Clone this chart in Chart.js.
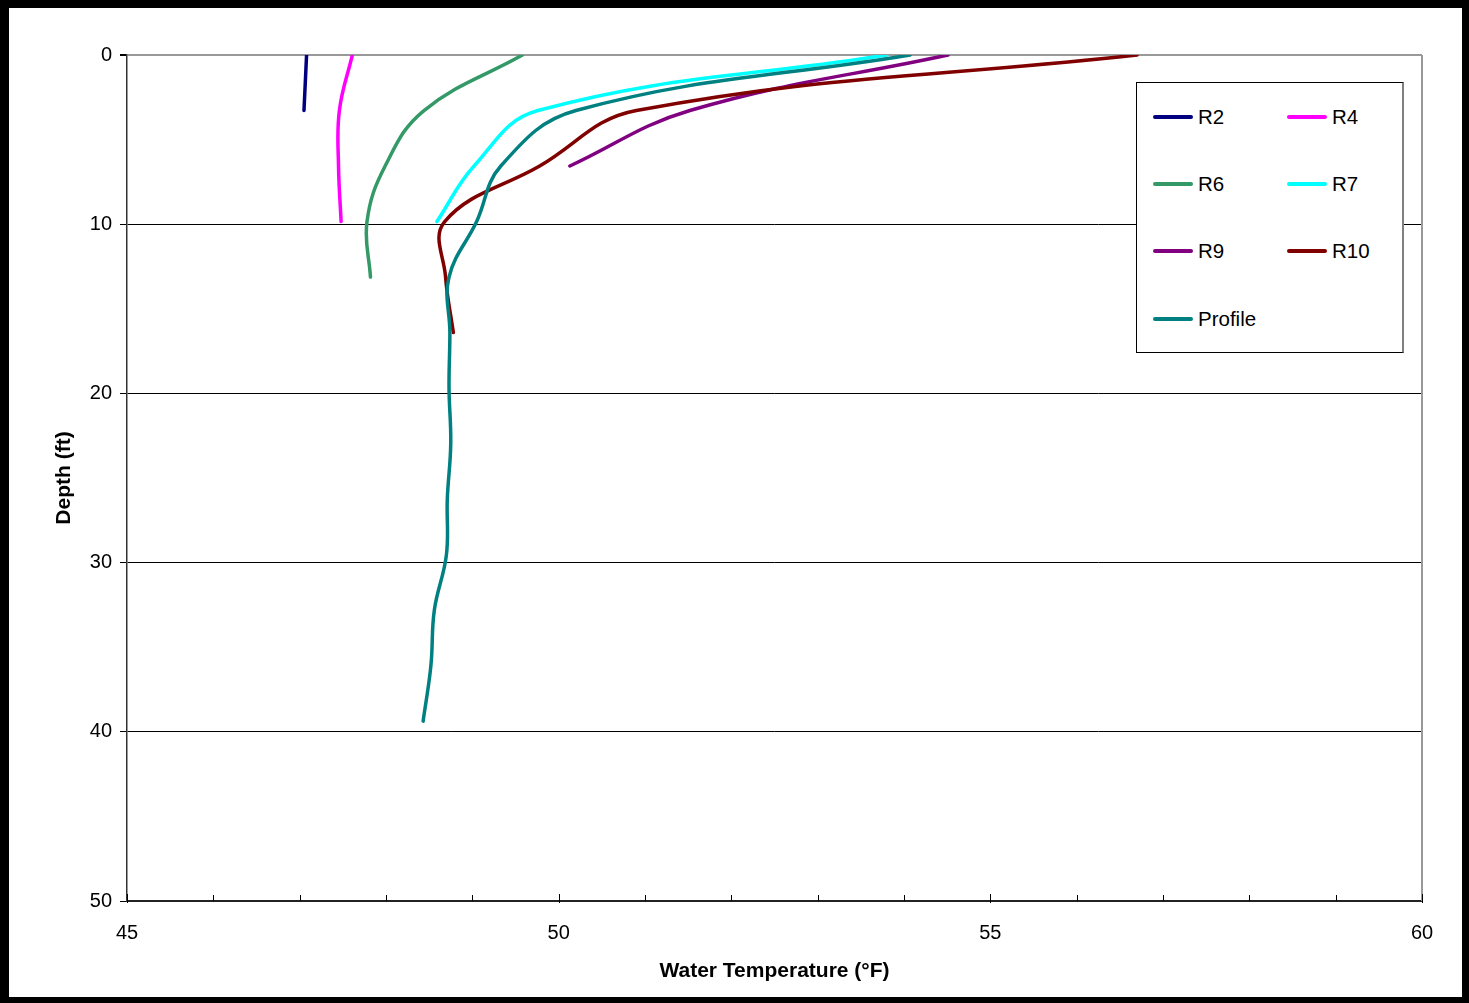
<!DOCTYPE html>
<html>
<head>
<meta charset="utf-8">
<script src="https://cdn.jsdelivr.net/npm/chart.js@4/dist/chart.umd.min.js"></script>
<style>
  html, body { margin: 0; padding: 0; background: #fff; }
  #frame {
    position: absolute; left: 0; top: 0;
    width: 1469px; height: 1003px; box-sizing: border-box;
    border-style: solid; border-color: #000;
    border-width: 8px 7px 6px 9px;
    background: #fff;
  }
  #c { position: absolute; left: 0; top: 0; }
  #legend {
    position: absolute; left: 1127px; top: 74px; width: 268px; height: 271px;
    box-sizing: border-box; border: 1px solid #000; border-right: 2px solid #808080;
    background: #fff;
    font-family: "Liberation Sans", Arial, sans-serif; font-size: 20.5px; color: #000;
  }
  .li { position: absolute; height: 24px; }
  .li .sw { position: absolute; left: 0; top: 10px; width: 40px; height: 3.5px; border-radius: 2px; }
  .li .tx { position: absolute; left: 45px; top: 0; line-height: 24px; white-space: nowrap; }
</style>
</head>
<body>
<div id="frame">
  <canvas id="c" width="1453" height="989"></canvas>
  <div id="legend"></div>
</div>
<script>
// Depth of each reading (ft) — readings were taken every metre
const depthFt = [0, 3.281, 6.562, 9.843, 13.123, 16.404, 19.685, 22.966, 26.247, 29.528, 32.808, 36.089, 39.370];

// Water temperature (°F) per series
const seriesNames = ["R2", "R4", "R6", "R7", "R9", "R10", "Profile"];
const seriesColors = ["#000080", "#FF00FF", "#339966", "#00FFFF", "#800080", "#800000", "#008080"];
const r2Temp = [47.08, 47.05];
const r4Temp = [47.61, 47.46, 47.45, 47.48];
const r6Temp = [49.58, 48.44, 47.99, 47.78, 47.82];
const r7Temp = [53.80, 49.76, 49.02, 48.59];
const r9Temp = [54.51, 51.52, 50.13];
const r10Temp = [56.70, 50.90, 49.78, 48.68, 48.69, 48.78];
const profileTemp = [54.07, 50.20, 49.33, 49.05, 48.73, 48.74, 48.73, 48.75, 48.71, 48.70, 48.56, 48.52, 48.43];

const xTicksMajor = [45, 50, 55, 60];
const yTicks = [0, 10, 20, 30, 40, 50];

const allTemps = [r2Temp, r4Temp, r6Temp, r7Temp, r9Temp, r10Temp, profileTemp];

const FONT = "'Liberation Sans', Arial, sans-serif";

const datasets = allTemps.map((temps, i) => ({
  label: seriesNames[i],
  data: temps.map((t, k) => ({ x: t, y: depthFt[k] })),
  borderColor: seriesColors[i],
  backgroundColor: seriesColors[i],
  borderWidth: 3.5,
  pointRadius: 0,
  showLine: true,
  tension: 0.4,
  borderCapStyle: 'round',
  borderJoinStyle: 'round',
  fill: false,
  order: allTemps.length - i
}));

// Legend (two columns, as in the reference)
const legend = document.getElementById('legend');
const colX = [16, 150];
const rowY = [22, 89, 156, 224];
seriesNames.forEach((name, i) => {
  const el = document.createElement('div');
  el.className = 'li';
  el.style.left = colX[i % 2] + 'px';
  el.style.top = rowY[Math.floor(i / 2)] + 'px';
  el.innerHTML = '<div class="sw" style="background:' + seriesColors[i] + '"></div><div class="tx">' + name + '</div>';
  legend.appendChild(el);
});

const frameTicks = {
  id: 'frameTicks',
  afterDraw(chart) {
    const ctx = chart.ctx, a = chart.chartArea, xs = chart.scales.x;
    ctx.save();
    // right plot border
    ctx.strokeStyle = '#999';
    ctx.lineWidth = 2;
    ctx.beginPath();
    ctx.moveTo(a.right, a.top);
    ctx.lineTo(a.right, a.bottom);
    ctx.stroke();
    // x tick marks (inside), minor every 1, major every 5
    ctx.strokeStyle = '#000';
    ctx.lineWidth = 1;
    for (let v = xs.min; v <= xs.max; v++) {
      const px = Math.round(xs.getPixelForValue(v)) + 0.5;
      const major = xTicksMajor.includes(v);
      ctx.beginPath();
      ctx.moveTo(px, a.bottom - (major ? 7 : 6));
      ctx.lineTo(px, a.bottom + (major ? 2 : 0));
      ctx.stroke();
    }
    ctx.restore();
  }
};

new Chart(document.getElementById('c'), {
  type: 'scatter',
  data: { datasets },
  plugins: [frameTicks],
  options: {
    responsive: false,
    animation: false,
    devicePixelRatio: 1,
    layout: { padding: { top: 47, right: 40, left: 0, bottom: 0 } },
    plugins: { legend: { display: false }, tooltip: { enabled: false } },
    scales: {
      x: {
        type: 'linear', position: 'bottom', min: 45, max: 60,
        afterFit(s) { s.height = 96; },
        afterBuildTicks(s) {
          s.ticks = xTicksMajor.map(v => ({ value: v }));
        },
        ticks: { autoSkip: false, maxRotation: 0, padding: 20, color: '#000',
                 font: { family: FONT, size: 20 } },
        grid: { display: false, drawTicks: false, tickLength: 0 },
        border: { display: true, color: '#222', width: 2 },
        title: { display: true, text: 'Water Temperature (°F)', color: '#000',
                 font: { family: FONT, size: 21, weight: 'bold' },
                 padding: { top: 0, bottom: 13 } }
      },
      y: {
        type: 'linear', position: 'left', min: 0, max: 50, reverse: true,
        afterFit(s) { s.width = 118; },
        afterBuildTicks(s) {
          s.ticks = yTicks.map(v => ({ value: v }));
        },
        ticks: { padding: 8, color: '#000', font: { family: FONT, size: 20 } },
        grid: {
          color: c => (c.tick && c.tick.value === 0) ? '#999' : '#000',
          lineWidth: c => (c.tick && c.tick.value === 0) ? 2 : 1,
          tickColor: '#000', tickLength: 7, drawTicks: true
        },
        border: { display: true, color: '#333', width: 1.5 },
        title: { display: true, text: 'Depth (ft)', color: '#000',
                 font: { family: FONT, size: 21, weight: 'bold' },
                 padding: { top: 43, bottom: 0 } }
      }
    }
  }
});
</script>
</body>
</html>
